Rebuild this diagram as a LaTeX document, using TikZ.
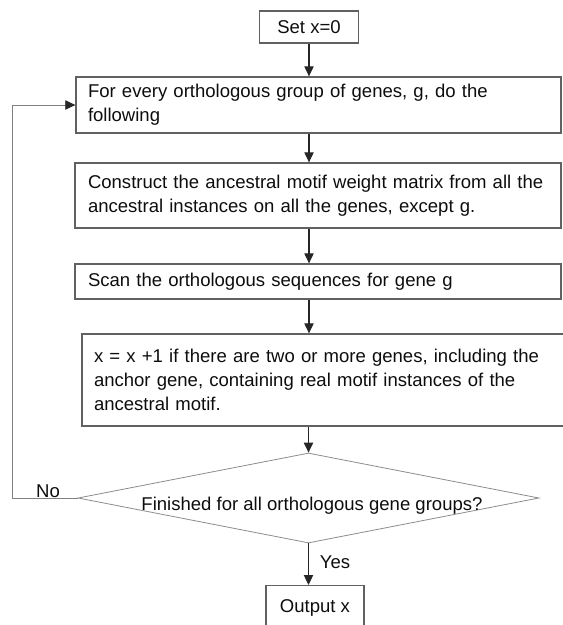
\documentclass[tikz,border=0pt]{standalone}
\usepackage{fontspec}
\setmainfont{Liberation Sans}
\usetikzlibrary{shapes.geometric,arrows.meta}
\begin{document}
\begin{tikzpicture}[x=0.75pt,y=-0.75pt,
  txt/.style={font=\fontsize{13.9}{17.8}\selectfont, text=black!95},
  box/.style={txt, draw=black!62, line width=1pt, inner sep=0pt, align=left},
  arr/.style={draw=black!85, line width=0.8pt, -{Triangle[length=7.5pt,width=7pt]}},
  loopline/.style={draw=black!50, line width=0.6pt, -{Triangle[length=7.5pt,width=7pt,black!85]}},
  dia/.style={draw=black!45, line width=0.6pt, shape=diamond, inner sep=0pt}
]
\useasboundingbox (0,0) rectangle (562,625);

\node[box, align=center, minimum width=74.25pt, minimum height=24pt] (set) at (309,27) {Set x=0};

\node[box, minimum width=363.75pt, minimum height=42pt, text width=345.75pt] (b1) at (318.5,105)
  {For every orthologous group of genes, g, do the\\following};

\node[box, minimum width=364.5pt, minimum height=48.75pt, text width=345pt] (b2) at (318,195.5)
  {Construct the ancestral motif weight matrix from all the\\ancestral instances on all the genes, except g.};

\node[box, minimum width=364.5pt, minimum height=26.25pt, text width=345pt] (b3) at (318,281.5)
  {Scan the orthologous sequences for gene g};

\node[box, minimum width=369.75pt, minimum height=69pt, text width=351.75pt] (b4) at (328.5,380)
  {x = x +1 if there are two or more genes, including the\\anchor gene, containing real motif instances of the\\ancestral motif.};

\node[dia, minimum width=345.75pt, minimum height=67.5pt] (d) at (308.5,498) {};
\node[txt] (dt) at (312,506) {Finished for all orthologous gene groups?};

\node[box, align=center, anchor=north, minimum width=73.5pt, text height=19.9pt, text depth=40pt] (out) at (315,585) {Output x};

\node[txt] (no) at (48,491) {No};
\node[txt] (yes) at (335,562) {Yes};

\coordinate (lp) at (12,300);

\draw[arr] (set.south) -- (set.south |- b1.north);
\draw[arr] (b1.south -| set.south) -- (b2.north -| set.south);
\draw[arr] (b2.south -| set.south) -- (b3.north -| set.south);
\draw[arr] (b3.south -| set.south) -- (b4.north -| set.south);
\draw[arr] (b4.south -| d.north) -- (d.north);
\draw[arr] (d.south) -- (d.south |- out.north);
\draw[loopline] (d.west) -- (d.west -| lp) -- (lp |- b1.west) -- (b1.west);
\end{tikzpicture}
\end{document}
